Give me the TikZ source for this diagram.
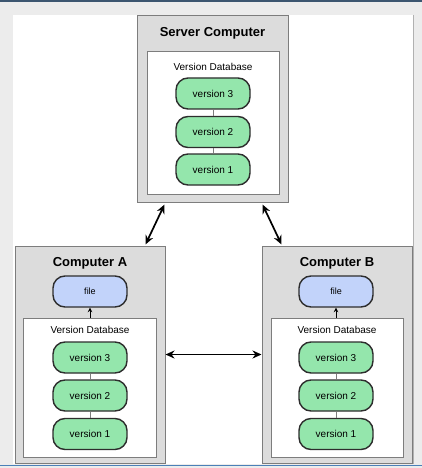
\documentclass[tikz,border=0pt]{standalone}
\usepackage{fontspec}
\setmainfont{Liberation Sans}
\usetikzlibrary{calc,arrows.meta}
\definecolor{pagegray}{RGB}{236,236,236}
\definecolor{boxgray}{RGB}{220,220,220}
\definecolor{edgegray}{RGB}{125,125,125}
\definecolor{pillgreen}{RGB}{148,230,172}
\definecolor{pillblue}{RGB}{194,211,250}
\definecolor{pilledge}{RGB}{45,45,45}
\definecolor{topbar}{RGB}{60,86,112}
\definecolor{botbar}{RGB}{74,128,184}
\tikzset{
  machine/.style={draw=edgegray, fill=boxgray, line width=1pt, inner sep=0pt},
  dbbox/.style={draw=edgegray, fill=white, line width=1pt, inner sep=0pt},
  title/.style={font=\fontsize{13}{15}\selectfont\bfseries, inner sep=0pt},
  dblabel/.style={font=\fontsize{10}{12}\selectfont, inner sep=0pt},
  pill/.style={draw=pilledge, line width=1.4pt, rounded corners=12pt, minimum width=74pt, minimum height=31pt, inner sep=0pt, font=\fontsize{10}{12}\selectfont},
  verpill/.style={pill, fill=pillgreen},
  filepill/.style={pill, fill=pillblue, font=\fontsize{9}{11}\selectfont},
  link/.style={draw=edgegray, line width=0.8pt},
  sync/.style={line width=1.7pt, {Stealth[length=9pt,width=8pt]}-{Stealth[length=9pt,width=8pt]}},
  checkout/.style={line width=1pt, -{Stealth[length=4.5pt,width=4.5pt]}}
}
\begin{document}
\begin{tikzpicture}[x=1pt,y=-1pt]
% frame
\fill[pagegray] (0,0) rectangle (422,468);
\useasboundingbox (0,0) rectangle (422,468);
\fill[white] (13,15) rectangle (413,464);
\draw[edgegray!60, line width=0.6pt] (413,15) -- (413,464);
\fill[topbar] (0,0) rectangle (422,1.8);
\fill[botbar] (0,464.5) rectangle (422,466.3);

% server
\node[machine, minimum width=151pt, minimum height=186pt] (server) at (212.5,109) {};
\node[title] (stitle) at (212.5,33) {Server Computer};
\node[dbbox, minimum width=132pt, minimum height=142pt] (sdb) at (213,123) {};
\node[dblabel] (slabel) at (213,67) {Version Database};
\node[verpill] (s3) at (213,93.5) {version 3};
\node[verpill] (s2) at (213,132) {version 2};
\node[verpill] (s1) at (213,169.5) {version 1};
\draw[link] (s3.south) -- (s2.north);
\draw[link] (s2.south) -- (s1.north);

% computer A
\node[machine, minimum width=150pt, minimum height=217pt] (ca) at (90,354.5) {};
\node[title] (atitle) at (90,263) {Computer A};
\node[filepill] (afile) at (90,291.5) {file};
\node[dbbox, minimum width=133pt, minimum height=139pt] (adb) at (89.5,387.5) {};
\node[dblabel] (alabel) at (90,330) {Version Database};
\node[verpill] (a3) at (90,357.5) {version 3};
\node[verpill] (a2) at (90,395.5) {version 2};
\node[verpill] (a1) at (90,434) {version 1};
\draw[link] (a3.south) -- (a2.north);
\draw[link] (a2.south) -- (a1.north);
\draw[checkout] (adb.north -| afile.south) -- (afile.south);

% computer B
\node[machine, minimum width=150pt, minimum height=217pt] (cb) at (337,354.5) {};
\node[title] (btitle) at (337,263) {Computer B};
\node[filepill] (bfile) at (336,291.5) {file};
\node[dbbox, minimum width=132pt, minimum height=139pt] (bdb) at (337,387.5) {};
\node[dblabel] (blabel) at (337,330) {Version Database};
\node[verpill] (b3) at (336,357.5) {version 3};
\node[verpill] (b2) at (336,395.5) {version 2};
\node[verpill] (b1) at (336,434) {version 1};
\draw[link] (b3.south) -- (b2.north);
\draw[link] (b2.south) -- (b1.north);
\draw[checkout] (bdb.north -| bfile.south) -- (bfile.south);

% sync arrows
\draw[sync] ($(server.south west)+(28,2)$) -- ($(ca.north east)+(-20,-1)$);
\draw[sync] ($(server.south east)+(-26,2)$) -- ($(cb.north west)+(20,-1)$);
\draw[sync] (ca.east) -- (cb.west);
\end{tikzpicture}
\end{document}
